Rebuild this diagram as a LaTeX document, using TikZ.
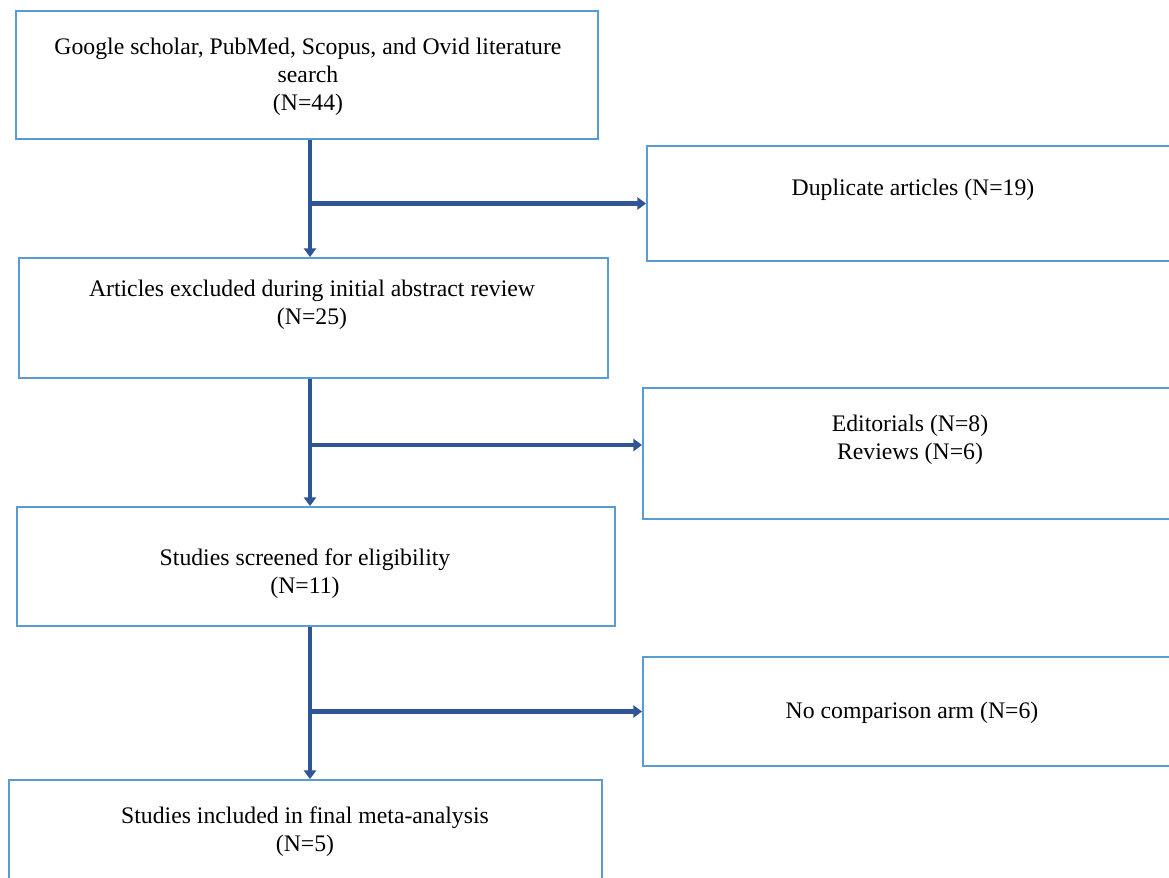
\documentclass[tikz,border=0pt]{standalone}
\usepackage{fontspec}
\setmainfont{Liberation Serif}
\usetikzlibrary{arrows.meta}
\definecolor{boxblue}{HTML}{5B9BD5}
\definecolor{flowblue}{HTML}{2F5597}

\tikzset{
  box/.style={draw=boxblue, line width=1.1pt, rectangle, inner sep=0pt},
  txt/.style={align=center, font=\fontsize{13.5}{16}\selectfont, inner sep=0pt},
  flow/.style={draw=flowblue, line width=2.8pt, -{Triangle[length=5pt,width=7pt]}},
}

\begin{document}
\begin{tikzpicture}
  \path[use as bounding box, clip] (0,0) rectangle (23.38,-17.54);
  % main column of boxes
  \node[box, minimum width=11.64cm, minimum height=2.56cm] (search) at (6.14,-1.50) {};
  \node[box, minimum width=11.78cm, minimum height=2.40cm] (abstract) at (6.27,-6.36) {};
  \node[box, minimum width=11.96cm, minimum height=2.38cm] (screen) at (6.32,-11.33) {};
  \node[box, minimum width=11.86cm, minimum height=2.20cm] (final) at (6.11,-16.70) {};
  % excluded records, cut off at the right edge
  \node[box, minimum width=10.66cm, minimum height=2.30cm] (dup) at (18.27,-4.07) {};
  \node[box, minimum width=10.74cm, minimum height=2.62cm] (editorial) at (18.23,-9.07) {};
  \node[box, minimum width=10.74cm, minimum height=2.18cm] (nocomp) at (18.23,-14.23) {};

  \node[txt] (search-t) at (6.16,-1.54) {Google scholar, PubMed, Scopus, and Ovid literature\\search\\(N=44)};
  \node[txt] (abstract-t) at (6.24,-6.10) {Articles excluded during initial abstract review\\(N=25)};
  \node[txt] (screen-t) at (6.10,-11.48) {Studies screened for eligibility\\(N=11)};
  \node[txt] (final-t) at (6.10,-16.64) {Studies included in final meta-analysis\\(N=5)};
  \node[txt] (dup-t) at (18.26,-3.80) {Duplicate articles (N=19)};
  \node[txt] (editorial-t) at (18.20,-8.80) {Editorials (N=8)\\Reviews (N=6)};
  \node[txt] (nocomp-t) at (18.24,-14.26) {No comparison arm (N=6)};

  % connectors
  \coordinate (spine) at (6.2,0);
  \draw[flow] (search.south -| spine) -- (abstract.north -| spine);
  \draw[flow] (abstract.south -| spine) -- (screen.north -| spine);
  \draw[flow] (screen.south -| spine) -- (final.north -| spine);
  \draw[flow] (spine |- dup.west) -- (dup.west);
  \draw[flow] (spine |- 0,-8.90) -- (editorial.west |- 0,-8.90);
  \draw[flow] (spine |- nocomp.west) -- (nocomp.west);
\end{tikzpicture}
\end{document}
